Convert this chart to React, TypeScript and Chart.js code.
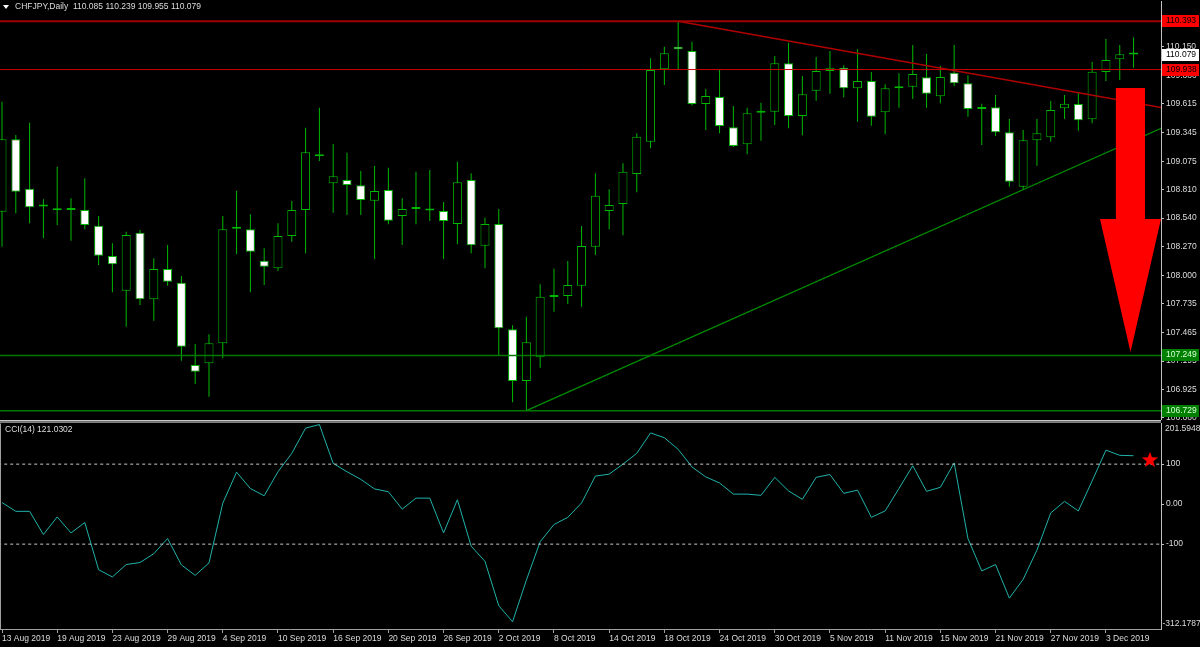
import React, { useEffect, useRef } from "react";
import { Chart, registerables } from "chart.js";

Chart.register(...registerables);

// ---------- data ----------
const TITLE = "CHFJPY,Daily  110.085 110.239 109.955 110.079";
const CCI_TITLE = "CCI(14) 121.0302";

const OPEN = [
  108.601, 109.282, 108.817, 108.65, 108.62, 108.632, 108.617, 108.469, 108.184, 107.857,
  108.403, 107.777, 108.062, 107.933, 107.158, 107.174, 107.363, 108.44, 108.435, 108.14,
  108.068, 108.372, 108.617, 109.13, 108.868, 108.899, 108.849, 108.704, 108.805, 108.56,
  108.626, 108.622, 108.607, 108.485, 108.899, 108.281, 108.485, 107.494, 107.008, 107.231,
  107.798, 107.808, 107.904, 108.271, 108.607, 108.673, 108.955, 109.259, 109.94, 110.153,
  110.112, 109.614, 109.68, 109.395, 109.235, 109.532, 109.541, 109.997, 109.501, 109.739,
  109.924, 109.955, 109.761, 109.83, 109.536, 109.761, 109.776, 109.865, 109.686, 109.908,
  109.808, 109.566, 109.583, 109.347, 108.836, 109.272, 109.3, 109.573, 109.614, 109.47,
  109.915, 110.034, 110.085,
];
const HIGH = [
  109.635, 109.322, 109.438, 108.717, 109.024, 108.727, 108.915, 108.56, 108.303, 108.412,
  108.428, 108.162, 108.287, 107.996, 107.356, 107.447, 108.56, 108.798, 108.576, 108.256,
  108.491, 108.701, 109.391, 109.579, 109.237, 109.156, 108.983, 109.03, 109.015, 108.727,
  108.977, 108.993, 108.692, 109.071, 108.962, 108.544, 108.626, 107.532, 107.613, 107.918,
  108.064, 108.137, 108.466, 108.962, 108.811, 109.056, 109.338, 110.044, 110.153, 110.393,
  110.2, 109.755, 109.934, 109.595, 109.579, 109.626, 110.065, 110.19, 109.877, 110.056,
  110.112, 109.978, 110.128, 109.915, 109.799, 109.903, 110.169, 110.084, 109.971, 110.169,
  109.884, 109.617, 109.698, 109.473, 109.369, 109.473, 109.642, 109.698, 109.714, 110.009,
  110.225, 110.169, 110.239,
];
const LOW = [
  108.271, 108.586, 108.491, 108.35, 108.475, 108.328, 108.435, 108.099, 107.842, 107.519,
  107.723, 107.575, 107.904, 107.199, 106.98, 106.86, 107.221, 108.2, 107.842, 107.911,
  108.043, 108.318, 108.209, 109.078, 108.591, 108.57, 108.57, 108.156, 108.482, 108.287,
  108.482, 108.513, 108.156, 108.294, 108.209, 108.068, 107.253, 106.808, 106.729, 107.133,
  107.66, 107.732, 107.707, 108.193, 108.435, 108.379, 108.783, 109.197, 109.792, 109.934,
  109.6, 109.369, 109.338, 109.21, 109.141, 109.268, 109.416, 109.385, 109.319, 109.645,
  109.711, 109.677, 109.447, 109.41, 109.329, 109.579, 109.661, 109.579, 109.62, 109.783,
  109.494, 109.228, 109.313, 108.836, 108.805, 109.033, 109.259, 109.473, 109.363, 109.432,
  109.83, 109.839, 109.955,
];
const CLOSE = [
  109.282, 108.789, 108.642, 108.655, 108.615, 108.617, 108.475, 108.187, 108.106, 108.381,
  107.777, 108.062, 107.942, 107.331, 107.095, 107.363, 108.435, 108.448, 108.224, 108.083,
  108.372, 108.617, 109.159, 109.122, 108.934, 108.852, 108.711, 108.795, 108.516, 108.626,
  108.632, 108.612, 108.513, 108.877, 108.285, 108.485, 107.504, 107.008, 107.372, 107.801,
  107.804, 107.911, 108.278, 108.751, 108.664, 108.977, 109.306, 109.934, 110.091, 110.128,
  109.614, 109.689, 109.407, 109.219, 109.526, 109.54, 109.997, 109.501, 109.705, 109.924,
  109.955, 109.761, 109.83, 109.494, 109.761, 109.78, 109.896, 109.711, 109.868, 109.808,
  109.567, 109.572, 109.347, 108.883, 109.272, 109.338, 109.557, 109.617, 109.46, 109.918,
  110.028, 110.081, 110.079,
];
const CCI = [
  4, -18, -18, -76, -32, -72, -46, -164, -182, -151,
  -146, -124, -86, -152, -178, -147, 2.5, 80, 39, 21,
  81, 127, 190, 199, 102, 81, 62, 38, 31, -12.5,
  15, 15, -72, 11, -105, -143, -254, -294, -190, -94,
  -51, -33, 3, 70, 75, 100, 127, 178, 166, 137,
  93, 68, 53, 25, 25, 22, 67, 33, 12, 67,
  74, 27, 35, -33, -17, 39, 96, 32, 42, 103,
  -86, -167, -151, -235, -188, -115, -22, 7, -17, 58,
  135, 122, 121.0302,
];

const DATE_LABELS = [
  "13 Aug 2019", "19 Aug 2019", "23 Aug 2019", "29 Aug 2019", "4 Sep 2019", "10 Sep 2019",
  "16 Sep 2019", "20 Sep 2019", "26 Sep 2019", "2 Oct 2019", "8 Oct 2019", "14 Oct 2019",
  "18 Oct 2019", "24 Oct 2019", "30 Oct 2019", "5 Nov 2019", "11 Nov 2019", "15 Nov 2019",
  "21 Nov 2019", "27 Nov 2019", "3 Dec 2019",
];
const DATE_LABEL_BARS = [0, 4, 8, 12, 16, 20, 24, 28, 32, 36, 40, 44, 48, 52, 56, 60, 64, 68, 72, 76, 80];

const PRICE_TICKS = [
  110.15, 109.88, 109.615, 109.345, 109.075, 108.81, 108.54, 108.27, 108.0, 107.735,
  107.465, 107.195, 106.925, 106.66,
];
const CCI_TICKS = [100, 0, -100];
const CCI_MAX = 201.5948;
const CCI_MIN = -312.1787;
const CCI_LEVELS = [100, -100];

const HLINE_PRICES = [110.393, 109.938, 107.249, 106.729];
const RED_TREND_BARS = [49, 84];
const RED_TREND_PRICES = [110.393, 109.581];
const GREEN_TREND_BARS = [38, 84];
const GREEN_TREND_PRICES = [106.729, 109.385];

const ARROW_BARS = [80.72, 82.83, 82.83, 83.99, 81.78, 79.57, 80.72];
const ARROW_PRICES = [109.764, 109.764, 108.532, 108.532, 107.281, 108.532, 108.532];
const STAR_BAR = 83.19;
const STAR_CCI = 110;

const PRICE_BOXES = [
  { price: 110.393, bg: "#ff0000", fg: "#000000" },
  { price: 110.079, bg: "#ffffff", fg: "#000000" },
  { price: 109.938, bg: "#ff0000", fg: "#000000" },
  { price: 107.249, bg: "#008000", fg: "#d8ffd8" },
  { price: 106.729, bg: "#008000", fg: "#d8ffd8" },
];

// ---------- style ----------
const X_MIN = -0.145;
const X_MAX = 83.99;
const Y_MIN = 106.6505;
const Y_MAX = 110.5827;
const FONT = "'Liberation Sans', Arial, sans-serif";
const FONT_SIZE = 8.5;
const TEXT = "#dcdcdc";
const CANDLE = "#00b800";
const AXIS = "#c0c0c0";
const HLINE_COLORS = ["#a00000", "#c80000", "#007800", "#007800"];
const HLINE_WIDTHS = [2, 1, 1.5, 1.5];

const BARS = OPEN.map((_, i) => i);

function drawStar(ctx: CanvasRenderingContext2D, cx: number, cy: number, ro: number, ri: number) {
  ctx.beginPath();
  for (let i = 0; i < 10; i++) {
    const r = i % 2 === 0 ? ro : ri;
    const a = -Math.PI / 2 + (i * Math.PI) / 5;
    const px = cx + r * Math.cos(a);
    const py = cy + r * Math.sin(a);
    if (i === 0) ctx.moveTo(px, py);
    else ctx.lineTo(px, py);
  }
  ctx.closePath();
  ctx.fill();
}

const mainOverlay = {
  id: "mainOverlay",
  afterDatasetsDraw(chart: any) {
    const { ctx, scales } = chart;
    const x = scales.x;
    const y = scales.y;
    ctx.save();
    ctx.fillStyle = "#ff0000";
    ctx.beginPath();
    ARROW_BARS.forEach((b, i) => {
      const px = x.getPixelForValue(b);
      const py = y.getPixelForValue(ARROW_PRICES[i]);
      if (i === 0) ctx.moveTo(px, py);
      else ctx.lineTo(px, py);
    });
    ctx.closePath();
    ctx.fill();
    ctx.restore();
  },
  afterDraw(chart: any) {
    const { ctx, scales } = chart;
    const y = scales.y;
    ctx.save();
    ctx.fillStyle = "#ffffff";
    ctx.beginPath();
    ctx.moveTo(3, 5);
    ctx.lineTo(9, 5);
    ctx.lineTo(6, 9);
    ctx.closePath();
    ctx.fill();
    ctx.font = `${FONT_SIZE}px ${FONT}`;
    ctx.fillStyle = TEXT;
    ctx.textBaseline = "middle";
    ctx.textAlign = "left";
    ctx.fillText(TITLE, 15, 7);
    PRICE_BOXES.forEach((b) => {
      const py = y.getPixelForValue(b.price);
      ctx.fillStyle = b.bg;
      ctx.fillRect(1162, Math.round(py) - 6, 37, 12);
      ctx.fillStyle = b.fg;
      ctx.fillText(b.price.toFixed(3), 1166, Math.round(py));
    });
    ctx.restore();
  },
};

const cciOverlay = {
  id: "cciOverlay",
  afterDraw(chart: any) {
    const { ctx, scales, chartArea } = chart;
    const x = scales.x;
    const y = scales.y;
    ctx.save();
    ctx.fillStyle = "#c8c8c8";
    ctx.fillRect(0, 0, 1161, 1.5);
    ctx.fillStyle = "#808080";
    ctx.fillRect(0, 1.5, 1161, 1.5);
    ctx.fillStyle = "#a0a0a0";
    ctx.fillRect(0, chartArea.top, 1, chartArea.bottom - chartArea.top);
    ctx.font = `${FONT_SIZE}px ${FONT}`;
    ctx.fillStyle = TEXT;
    ctx.textBaseline = "middle";
    ctx.textAlign = "left";
    ctx.fillText(CCI_TITLE, 5, 10);
    ctx.fillText(CCI_MAX.toFixed(4), 1165, y.getPixelForValue(CCI_MAX) + 5);
    ctx.fillText(CCI_MIN.toFixed(4), 1162.5, y.getPixelForValue(CCI_MIN) - 5);
    ctx.fillStyle = "#ff0000";
    drawStar(ctx, x.getPixelForValue(STAR_BAR), y.getPixelForValue(STAR_CCI), 8.5, 3.5);
    ctx.restore();
  },
};

export default function App() {
  const mainRef = useRef<HTMLCanvasElement>(null);
  const cciRef = useRef<HTMLCanvasElement>(null);

  useEffect(() => {
    Chart.defaults.font.family = FONT;
    Chart.defaults.font.size = FONT_SIZE;

    const bodyFill = BARS.map((i) => (CLOSE[i] >= OPEN[i] ? "#000000" : "#ffffff"));

    const hlineSets = HLINE_PRICES.map((p, i) => ({
      type: "line" as const,
      data: [
        { x: X_MIN - 1, y: p },
        { x: X_MAX + 1, y: p },
      ],
      borderColor: HLINE_COLORS[i],
      borderWidth: HLINE_WIDTHS[i],
      pointRadius: 0,
      order: 0,
    }));

    const main = new Chart(mainRef.current as HTMLCanvasElement, {
      type: "bar",
      data: {
        datasets: [
          ...hlineSets,
          {
            type: "line",
            data: RED_TREND_BARS.map((b, i) => ({ x: b, y: RED_TREND_PRICES[i] })),
            borderColor: "#b00000",
            borderWidth: 1.5,
            pointRadius: 0,
            order: 0,
          },
          {
            type: "line",
            data: GREEN_TREND_BARS.map((b, i) => ({ x: b, y: GREEN_TREND_PRICES[i] })),
            borderColor: "#008c00",
            borderWidth: 1.3,
            pointRadius: 0,
            order: 0,
          },
          {
            type: "bar",
            data: BARS.map((i) => ({ x: i, y: [OPEN[i], CLOSE[i]] })),
            backgroundColor: bodyFill,
            borderColor: CANDLE,
            borderWidth: 1,
            borderSkipped: false,
            barThickness: 9,
            minBarLength: 2,
            grouped: false,
            inflateAmount: 0,
            order: 1,
          },
          {
            type: "bar",
            data: BARS.map((i) => ({ x: i, y: [LOW[i], HIGH[i]] })),
            backgroundColor: CANDLE,
            borderWidth: 0,
            barThickness: 1,
            grouped: false,
            inflateAmount: 0,
            order: 2,
          },
        ] as any,
      },
      options: {
        responsive: false,
        maintainAspectRatio: false,
        devicePixelRatio: 1,
        animation: false,
        events: [],
        layout: { padding: { top: 1, bottom: 1, left: 0, right: 0 } },
        plugins: { legend: { display: false }, tooltip: { enabled: false }, title: { display: false } },
        scales: {
          x: {
            type: "linear",
            display: false,
            min: X_MIN,
            max: X_MAX,
            offset: false,
          },
          y: {
            type: "linear",
            position: "right",
            min: Y_MIN,
            max: Y_MAX,
            beginAtZero: false,
            afterBuildTicks: (s: any) => {
              s.ticks = PRICE_TICKS.map((v) => ({ value: v }));
            },
            afterFit: (s: any) => {
              s.width = 39;
              s.paddingTop = 0;
              s.paddingBottom = 0;
            },
            ticks: {
              autoSkip: false,
              color: TEXT,
              padding: 2,
              font: { family: FONT, size: FONT_SIZE },
              callback: (v: any) => Number(v).toFixed(3),
            },
            grid: { drawOnChartArea: false, drawTicks: true, tickLength: 3, color: AXIS },
            border: { display: true, color: AXIS, width: 1 },
          },
        },
      } as any,
      plugins: [mainOverlay],
    });

    const cci = new Chart(cciRef.current as HTMLCanvasElement, {
      type: "line",
      data: {
        datasets: [
          ...CCI_LEVELS.map((lv) => ({
            data: [
              { x: X_MIN - 1, y: lv },
              { x: X_MAX + 1, y: lv },
            ],
            borderColor: "#c8c8c8",
            borderWidth: 1,
            borderDash: [3, 3],
            pointRadius: 0,
          })),
          {
            data: BARS.map((i) => ({ x: i, y: CCI[i] })),
            borderColor: "#20b2aa",
            borderWidth: 1,
            pointRadius: 0,
            tension: 0,
          },
        ] as any,
      },
      options: {
        responsive: false,
        maintainAspectRatio: false,
        devicePixelRatio: 1,
        animation: false,
        events: [],
        layout: { padding: { top: 3.5, bottom: 0, left: 0, right: 0 } },
        plugins: { legend: { display: false }, tooltip: { enabled: false }, title: { display: false } },
        scales: {
          x: {
            type: "linear",
            min: X_MIN,
            max: X_MAX,
            offset: false,
            afterBuildTicks: (s: any) => {
              s.ticks = DATE_LABEL_BARS.map((v) => ({ value: v }));
            },
            afterFit: (s: any) => {
              s.height = 18;
              s.paddingLeft = 0;
              s.paddingRight = 0;
            },
            ticks: {
              autoSkip: false,
              maxRotation: 0,
              minRotation: 0,
              align: "start",
              padding: 1,
              color: TEXT,
              font: { family: FONT, size: FONT_SIZE },
              callback: (_v: any, i: number) => DATE_LABELS[i],
            },
            grid: { drawOnChartArea: false, drawTicks: true, tickLength: 4, color: "#a0a0a0" },
            border: { display: true, color: "#a0a0a0", width: 1 },
          },
          y: {
            type: "linear",
            position: "right",
            min: CCI_MIN,
            max: CCI_MAX,
            afterBuildTicks: (s: any) => {
              s.ticks = CCI_TICKS.map((v) => ({ value: v }));
            },
            afterFit: (s: any) => {
              s.width = 39;
              s.paddingTop = 0;
              s.paddingBottom = 0;
            },
            ticks: {
              autoSkip: false,
              color: TEXT,
              padding: 2,
              font: { family: FONT, size: FONT_SIZE },
              callback: (v: any) => (Number(v) === 0 ? "0.00" : String(v)),
            },
            grid: { drawOnChartArea: false, drawTicks: true, tickLength: 3, color: AXIS },
            border: { display: true, color: AXIS, width: 1 },
          },
        },
      } as any,
      plugins: [cciOverlay],
    });

    return () => {
      main.destroy();
      cci.destroy();
    };
  }, []);

  return (
    <div
      style={{
        position: "fixed",
        left: 0,
        top: 0,
        width: 1200,
        height: 647,
        background: "#000000",
        overflow: "hidden",
      }}
    >
      <canvas
        ref={mainRef}
        width={1200}
        height={420}
        style={{ position: "absolute", left: 0, top: 0, width: 1200, height: 420 }}
      />
      <canvas
        ref={cciRef}
        width={1200}
        height={227}
        style={{ position: "absolute", left: 0, top: 420, width: 1200, height: 227 }}
      />
    </div>
  );
}
